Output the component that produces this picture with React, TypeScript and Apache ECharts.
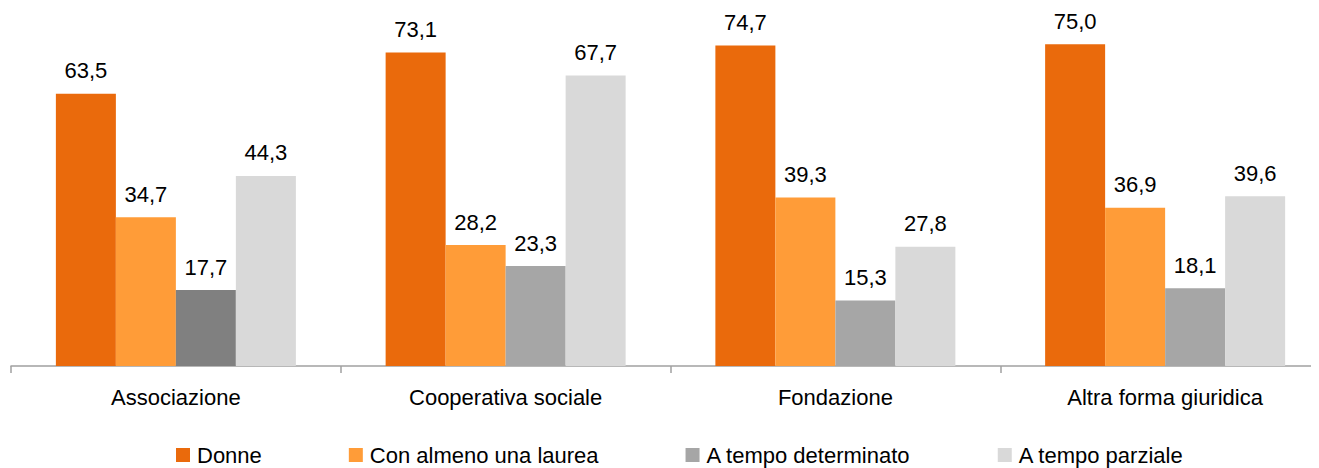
import React, { useEffect, useRef } from "react";
import * as echarts from "echarts";

const categories = ["Associazione", "Cooperativa sociale", "Fondazione", "Altra forma giuridica"];
const seriesNames = ["Donne", "Con almeno una laurea", "A tempo determinato", "A tempo parziale"];
const donne = [63.5, 73.1, 74.7, 75.0];
const laurea = [34.7, 28.2, 39.3, 36.9];
const determinato = [17.7, 23.3, 15.3, 18.1];
const parziale = [44.3, 67.7, 27.8, 39.6];

const colors = ["#EA6A0C", "#FF9C38", "#A6A6A6", "#D9D9D9"];
const FONT = "'Liberation Sans', Arial, sans-serif";

export default function App() {
  const ref = useRef<HTMLDivElement>(null);
  useEffect(() => {
    if (!ref.current) return;
    const chart = echarts.init(ref.current, undefined, { renderer: "svg" });
    const fmt = (p: any) => (p.value as number).toFixed(1).replace(".", ",");
    const mk = (name: string, data: any[], color: string) => ({
      name,
      type: "bar",
      data,
      barWidth: 60,
      barGap: "0%",
      itemStyle: { color },
      label: {
        show: true,
        position: "top",
        distance: 12,
        formatter: fmt,
        color: "#000",
        fontFamily: FONT,
        fontSize: 22,
      },
    });
    chart.setOption({
      animation: false,
      color: colors,
      grid: {
        left: 3,
        right: -11,
        top: 2,
        bottom: 102,
        containLabel: false,
        outerBoundsMode: "none",
      },
      legend: {
        data: seriesNames,
        bottom: -3,
        left: 163,
        itemWidth: 14,
        itemHeight: 14,
        itemGap: 87,
        icon: "rect",
        textStyle: { fontFamily: FONT, fontSize: 22, color: "#000", padding: [0, 0, 0, 2] },
      },
      xAxis: {
        type: "category",
        data: categories,
        axisLine: { lineStyle: { color: "#A0A0A0", width: 1.5 } },
        axisTick: { show: true, length: 7, lineStyle: { color: "#A0A0A0", width: 1.5 } },
        axisLabel: { fontFamily: FONT, fontSize: 22, color: "#000", margin: 20 },
      },
      yAxis: {
        type: "value",
        min: 0,
        max: 83,
        show: false,
        splitLine: { show: false },
      },
      series: [
        mk(seriesNames[0], donne, colors[0]),
        mk(seriesNames[1], laurea, colors[1]),
        mk(
          seriesNames[2],
          determinato.map((v, i) => (i === 0 ? { value: v, itemStyle: { color: "#808080" } } : v)),
          colors[2]
        ),
        mk(seriesNames[3], parziale, colors[3]),
      ],
    });
    return () => chart.dispose();
  }, []);
  return <div ref={ref} style={{ width: 1311, height: 460 }} />;
}
